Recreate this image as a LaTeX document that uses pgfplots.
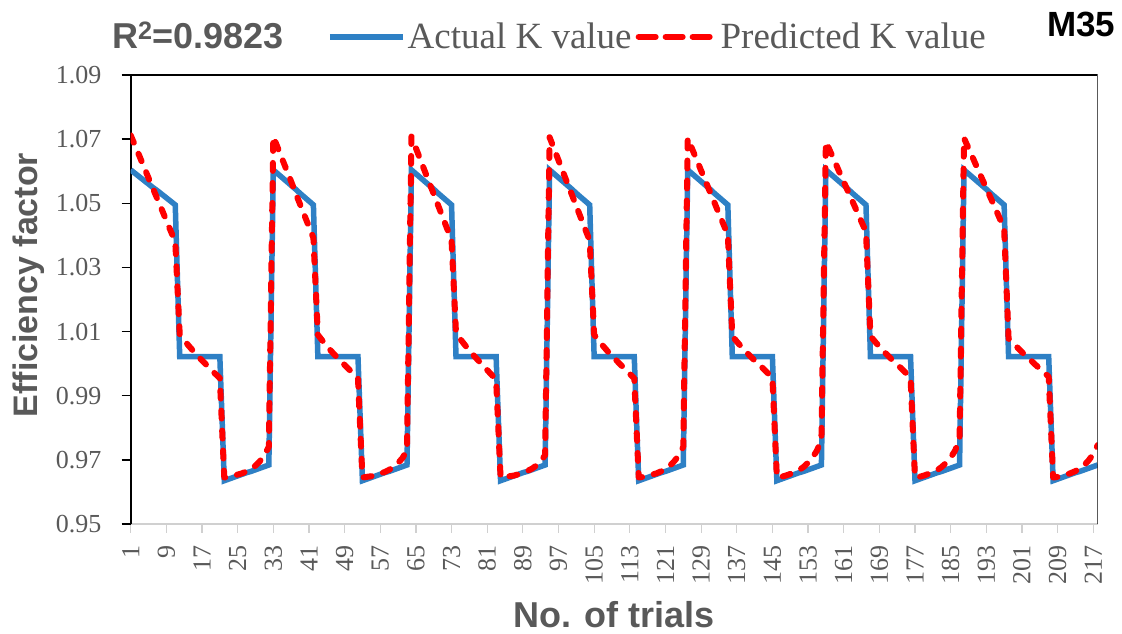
\documentclass[border=0pt]{standalone}
\usepackage{fontspec}
\setmainfont{Liberation Serif}
\newfontfamily\arial{Liberation Sans}
\usepackage{pgfplots}
\usepackage{pgfplotstable}
\pgfplotsset{compat=1.18}

\definecolor{kblue}{HTML}{2E80C5}
\definecolor{kred}{HTML}{FF0000}
\definecolor{labgray}{HTML}{595959}
\definecolor{axgray}{HTML}{D0D0D0}

% trial number, actual K value, predicted K value
\pgfplotstableread{
trial actual predicted
1 1.0604 1.0712
2 1.0593 1.0679
3 1.0582 1.0646
4 1.0571 1.0612
5 1.0560 1.0579
6 1.0549 1.0546
7 1.0539 1.0513
8 1.0528 1.0480
9 1.0517 1.0446
10 1.0506 1.0413
11 1.0495 1.0380
12 1.0022 1.0092
13 1.0022 1.0073
14 1.0022 1.0056
15 1.0022 1.0040
16 1.0022 1.0025
17 1.0022 1.0010
18 1.0022 0.9996
19 1.0022 0.9982
20 1.0022 0.9968
21 1.0022 0.9955
22 0.9635 0.9645
23 0.9640 0.9647
24 0.9645 0.9650
25 0.9650 0.9654
26 0.9655 0.9658
27 0.9660 0.9664
28 0.9664 0.9672
29 0.9669 0.9682
30 0.9674 0.9696
31 0.9679 0.9714
32 0.9684 0.9741
33 1.0604 1.0708
34 1.0592 1.0673
35 1.0580 1.0638
36 1.0568 1.0603
37 1.0556 1.0568
38 1.0544 1.0532
39 1.0531 1.0497
40 1.0519 1.0462
41 1.0507 1.0427
42 1.0495 1.0392
43 1.0022 1.0090
44 1.0022 1.0072
45 1.0022 1.0055
46 1.0022 1.0039
47 1.0022 1.0024
48 1.0022 1.0010
49 1.0022 0.9996
50 1.0022 0.9982
51 1.0022 0.9968
52 1.0022 0.9954
53 0.9635 0.9645
54 0.9640 0.9647
55 0.9645 0.9649
56 0.9650 0.9653
57 0.9655 0.9657
58 0.9660 0.9662
59 0.9664 0.9669
60 0.9669 0.9678
61 0.9674 0.9690
62 0.9679 0.9706
63 0.9684 0.9730
64 1.0604 1.0708
65 1.0592 1.0672
66 1.0580 1.0636
67 1.0568 1.0600
68 1.0556 1.0564
69 1.0544 1.0529
70 1.0531 1.0493
71 1.0519 1.0457
72 1.0507 1.0421
73 1.0495 1.0385
74 1.0022 1.0095
75 1.0022 1.0076
76 1.0022 1.0058
77 1.0022 1.0041
78 1.0022 1.0025
79 1.0022 1.0010
80 1.0022 0.9995
81 1.0022 0.9980
82 1.0022 0.9965
83 1.0022 0.9950
84 0.9635 0.9645
85 0.9640 0.9646
86 0.9645 0.9649
87 0.9650 0.9651
88 0.9655 0.9655
89 0.9660 0.9659
90 0.9664 0.9665
91 0.9669 0.9672
92 0.9674 0.9682
93 0.9679 0.9695
94 0.9684 0.9715
95 1.0604 1.0706
96 1.0592 1.0670
97 1.0580 1.0634
98 1.0568 1.0598
99 1.0556 1.0562
100 1.0544 1.0527
101 1.0531 1.0491
102 1.0519 1.0455
103 1.0507 1.0419
104 1.0495 1.0384
105 1.0022 1.0090
106 1.0022 1.0072
107 1.0022 1.0055
108 1.0022 1.0039
109 1.0022 1.0024
110 1.0022 1.0010
111 1.0022 0.9996
112 1.0022 0.9982
113 1.0022 0.9968
114 1.0022 0.9954
115 0.9635 0.9645
116 0.9640 0.9647
117 0.9645 0.9650
118 0.9650 0.9654
119 0.9655 0.9658
120 0.9660 0.9664
121 0.9664 0.9672
122 0.9669 0.9682
123 0.9674 0.9696
124 0.9679 0.9714
125 0.9684 0.9741
126 1.0604 1.0703
127 1.0592 1.0669
128 1.0580 1.0636
129 1.0568 1.0602
130 1.0556 1.0569
131 1.0544 1.0535
132 1.0531 1.0502
133 1.0519 1.0468
134 1.0507 1.0435
135 1.0495 1.0401
136 1.0022 1.0086
137 1.0022 1.0069
138 1.0022 1.0053
139 1.0022 1.0038
140 1.0022 1.0024
141 1.0022 1.0010
142 1.0022 0.9997
143 1.0022 0.9984
144 1.0022 0.9970
145 1.0022 0.9956
146 0.9635 0.9645
147 0.9640 0.9647
148 0.9645 0.9651
149 0.9650 0.9656
150 0.9655 0.9661
151 0.9660 0.9668
152 0.9664 0.9678
153 0.9669 0.9691
154 0.9674 0.9707
155 0.9679 0.9729
156 0.9684 0.9762
157 1.0604 1.0692
158 1.0592 1.0661
159 1.0580 1.0630
160 1.0568 1.0598
161 1.0556 1.0567
162 1.0544 1.0536
163 1.0531 1.0505
164 1.0519 1.0474
165 1.0507 1.0442
166 1.0495 1.0411
167 1.0022 1.0086
168 1.0022 1.0069
169 1.0022 1.0053
170 1.0022 1.0038
171 1.0022 1.0024
172 1.0022 1.0010
173 1.0022 0.9997
174 1.0022 0.9984
175 1.0022 0.9970
176 1.0022 0.9956
177 0.9635 0.9645
178 0.9640 0.9647
179 0.9645 0.9651
180 0.9650 0.9656
181 0.9655 0.9661
182 0.9660 0.9668
183 0.9664 0.9678
184 0.9669 0.9691
185 0.9674 0.9707
186 0.9679 0.9729
187 0.9684 0.9762
188 1.0604 1.0703
189 1.0592 1.0672
190 1.0580 1.0641
191 1.0568 1.0609
192 1.0556 1.0578
193 1.0544 1.0547
194 1.0531 1.0516
195 1.0519 1.0485
196 1.0507 1.0453
197 1.0495 1.0422
198 1.0022 1.0078
199 1.0022 1.0064
200 1.0022 1.0050
201 1.0022 1.0036
202 1.0022 1.0023
203 1.0022 1.0010
204 1.0022 0.9997
205 1.0022 0.9984
206 1.0022 0.9972
207 1.0022 0.9959
208 0.9635 0.9645
209 0.9640 0.9647
210 0.9645 0.9650
211 0.9650 0.9654
212 0.9655 0.9659
213 0.9660 0.9665
214 0.9664 0.9673
215 0.9669 0.9684
216 0.9674 0.9699
217 0.9679 0.9718
218 0.9684 0.9746
}\kdata

\begin{document}
\begin{tikzpicture}[x=1pt,y=1pt]
\useasboundingbox (0pt,0pt) rectangle (1122pt,634pt);
\begin{axis}[
  at={(130.7pt,110pt)}, anchor=south west,
  scale only axis, width=967pt, height=449pt,
  xmin=1, xmax=218, ymin=0.95, ymax=1.09,
  axis x line*=bottom, axis y line*=left,
  x axis line style={draw=axgray, line width=1.5pt},
  y axis line style={draw=black, line width=1.6pt},
  xtick={1,9,...,217},
  ytick={0.95,0.97,0.99,1.01,1.03,1.05,1.07,1.09},
  tick align=outside,
  major tick length=9pt,
  x tick style={draw=axgray, line width=1.2pt},
  y tick style={draw=black, line width=1.5pt},
  /pgf/number format/assume math mode=true,
  % shifts act in the rotated frame: a negative xshift moves the label down
  xticklabel style={rotate=90, anchor=east, inner sep=0pt, xshift=-12pt,
    font=\fontsize{26}{26}\selectfont, text=labgray},
  yticklabel style={anchor=east, inner sep=0pt, xshift=-20pt,
    font=\fontsize{26}{26}\selectfont, text=labgray,
    /pgf/number format/.cd, fixed, fixed zerofill, precision=2},
  legend style={at={(0.203,1.085)}, anchor=west, draw=none, fill=none,
    inner sep=0pt, legend columns=2,
    font=\fontsize{37}{37}\selectfont, text=labgray,
    nodes={inner sep=2pt},
    /tikz/every even column/.append style={column sep=2pt}},
  legend cell align=left,
  legend image code/.code={\draw[#1] (0pt,0pt) -- (73pt,0pt);},
]
\addplot[kblue, line width=5.5pt] table[x=trial, y=actual] {\kdata};
\addlegendentry{Actual K value}
\addplot[kred, line width=6pt, line cap=round, line join=round,
  dash pattern=on 8pt off 12pt,
  legend image code/.code={\draw[kred, line width=6pt, line cap=round,
    dash pattern=on 17pt off 10pt] (3pt,0pt) -- (80pt,0pt);}]
  table[x=trial, y=predicted] {\kdata};
\addlegendentry{Predicted K value}
\draw[black, line width=1.6pt] (rel axis cs:0,1) -- (rel axis cs:1,1) -- (rel axis cs:1,0);
\end{axis}
\node[anchor=base west, inner sep=0pt, text=labgray,
  font=\arial\bfseries\fontsize{36}{36}\selectfont] at (112pt,585pt) {R\textsuperscript{2}=0.9823};
\node[anchor=base west, inner sep=0pt,
  font=\arial\bfseries\fontsize{35}{35}\selectfont] at (1047pt,597pt) {M35};
\node[rotate=90, anchor=base, inner sep=0pt, text=labgray,
  font=\arial\bfseries\fontsize{34}{34}\selectfont] at (38pt,349pt) {Efficiency factor};
\node[anchor=base, inner sep=0pt, text=labgray,
  font=\arial\bfseries\fontsize{36}{36}\selectfont] at (614pt,6pt) {No. of trials};
\end{tikzpicture}
\end{document}
